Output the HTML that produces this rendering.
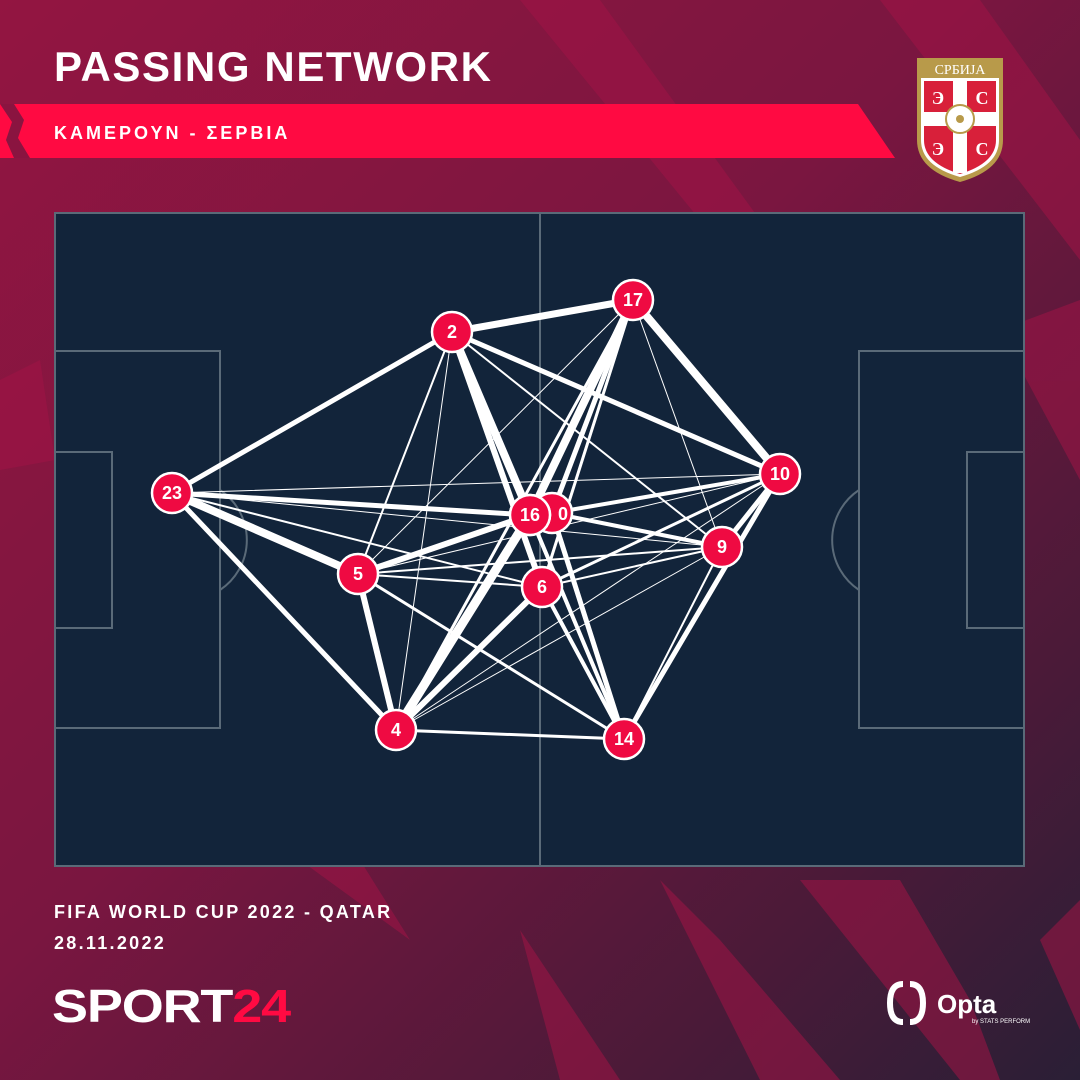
<!DOCTYPE html>
<html><head><meta charset="utf-8"><style>
html,body{margin:0;padding:0;width:1080px;height:1080px;overflow:hidden}
body{font-family:"Liberation Sans",sans-serif}
</style></head><body>
<svg width="1080" height="1080" viewBox="0 0 1080 1080" xmlns="http://www.w3.org/2000/svg">
<defs>
<linearGradient id="bg" x1="0" y1="0" x2="1" y2="1">
<stop offset="0" stop-color="#931541"/><stop offset="0.45" stop-color="#7a1640"/><stop offset="0.8" stop-color="#4a1a38"/><stop offset="1" stop-color="#2a1f36"/>
</linearGradient>
</defs>
<rect width="1080" height="1080" fill="url(#bg)"/>
<g fill="#a01446" opacity="0.55">
<polygon points="520,0 600,0 760,220 700,220"/>
<polygon points="880,0 980,0 1080,140 1080,260"/>
<polygon points="1000,330 1080,300 1080,480"/>
<polygon points="0,380 40,360 55,460 0,470"/>
<polygon points="300,860 360,860 410,940"/>
<polygon points="520,930 560,1080 620,1080"/>
<polygon points="660,880 720,940 840,1080 760,1080"/>
<polygon points="800,880 900,880 970,1000 1000,1080 960,1080"/>
<polygon points="1040,940 1080,900 1080,1030"/>
</g>
<text x="54" y="81" font-size="42" font-weight="700" fill="#fff" letter-spacing="1.6">PASSING NETWORK</text>
<polygon points="0,104 858,104 895,158 0,158" fill="#ff0a42"/>
<polygon points="0,104 14,104 24,120 18,138 30,158 14,158 6,140 12,122" fill="#8a1440"/>
<text x="54" y="139" font-size="18" font-weight="700" fill="#fff" letter-spacing="3">ΚΑΜΕΡΟΥΝ  -  ΣΕΡΒΙΑ</text>
<!-- crest -->
<path d="M917,58 L1003,58 L1003,140 Q1003,170 960,182 Q917,170 917,140 Z" fill="#b89a4a"/>
<path d="M921,78 L999,78 L999,140 Q999,166 960,177 Q921,166 921,140 Z" fill="#fff"/>
<path d="M924,81 L996,81 L996,140 Q996,163 960,174 Q924,163 924,140 Z" fill="#d8203a"/>
<rect x="953" y="81" width="14" height="92" fill="#fff"/>
<rect x="924" y="112" width="72" height="14" fill="#fff"/>
<circle cx="960" cy="119" r="14" fill="#fff" stroke="#b89a4a" stroke-width="2"/>
<circle cx="960" cy="119" r="4" fill="#b89a4a"/>
<text x="960" y="74" font-family="Liberation Serif,serif" font-size="14" fill="#fff" text-anchor="middle">СРБИЈА</text>
<g font-family="Liberation Serif,serif" font-size="18" fill="#fff" text-anchor="middle" font-weight="700">
<text x="938" y="104">Э</text><text x="982" y="104">C</text><text x="938" y="155">Э</text><text x="982" y="155">C</text></g>
<!-- pitch -->
<rect x="55" y="213" width="969" height="653" fill="#12243a" stroke="#5a6a78" stroke-width="2"/>
<g fill="none" stroke="#5a6a78" stroke-width="2">
<line x1="540" y1="213" x2="540" y2="866"/>
<rect x="55" y="351" width="165" height="377"/>
<rect x="55" y="452" width="57" height="176"/>
<rect x="859" y="351" width="165" height="377"/>
<rect x="967" y="452" width="57" height="176"/>
<path d="M220,490 A60,60 0 0 1 220,590"/>
<path d="M859,490 A60,60 0 0 0 859,590"/>
</g>
<g stroke="#fff" stroke-linecap="round">
<line x1="452" y1="332" x2="633" y2="300" stroke-width="7"/>
<line x1="452" y1="332" x2="172" y2="493" stroke-width="5"/>
<line x1="452" y1="332" x2="530" y2="515" stroke-width="8"/>
<line x1="452" y1="332" x2="542" y2="587" stroke-width="6"/>
<line x1="452" y1="332" x2="780" y2="474" stroke-width="5"/>
<line x1="452" y1="332" x2="722" y2="547" stroke-width="2"/>
<line x1="452" y1="332" x2="358" y2="574" stroke-width="2"/>
<line x1="452" y1="332" x2="396" y2="730" stroke-width="1"/>
<line x1="452" y1="332" x2="624" y2="739" stroke-width="3"/>
<line x1="633" y1="300" x2="530" y2="515" stroke-width="8"/>
<line x1="633" y1="300" x2="552" y2="513" stroke-width="5"/>
<line x1="633" y1="300" x2="542" y2="587" stroke-width="3"/>
<line x1="633" y1="300" x2="780" y2="474" stroke-width="8"/>
<line x1="633" y1="300" x2="722" y2="547" stroke-width="1"/>
<line x1="633" y1="300" x2="358" y2="574" stroke-width="1"/>
<line x1="633" y1="300" x2="396" y2="730" stroke-width="3"/>
<line x1="172" y1="493" x2="530" y2="515" stroke-width="5"/>
<line x1="172" y1="493" x2="358" y2="574" stroke-width="8"/>
<line x1="172" y1="493" x2="396" y2="730" stroke-width="5"/>
<line x1="172" y1="493" x2="780" y2="474" stroke-width="1"/>
<line x1="172" y1="493" x2="542" y2="587" stroke-width="2"/>
<line x1="172" y1="493" x2="722" y2="547" stroke-width="1"/>
<line x1="530" y1="515" x2="358" y2="574" stroke-width="6"/>
<line x1="530" y1="515" x2="396" y2="730" stroke-width="9"/>
<line x1="530" y1="515" x2="624" y2="739" stroke-width="4"/>
<line x1="552" y1="513" x2="780" y2="474" stroke-width="4"/>
<line x1="552" y1="513" x2="722" y2="547" stroke-width="4"/>
<line x1="552" y1="513" x2="624" y2="739" stroke-width="5"/>
<line x1="542" y1="587" x2="396" y2="730" stroke-width="6"/>
<line x1="542" y1="587" x2="624" y2="739" stroke-width="4"/>
<line x1="542" y1="587" x2="780" y2="474" stroke-width="3"/>
<line x1="542" y1="587" x2="722" y2="547" stroke-width="2"/>
<line x1="542" y1="587" x2="358" y2="574" stroke-width="2"/>
<line x1="358" y1="574" x2="396" y2="730" stroke-width="6"/>
<line x1="358" y1="574" x2="624" y2="739" stroke-width="3"/>
<line x1="358" y1="574" x2="722" y2="547" stroke-width="2"/>
<line x1="358" y1="574" x2="780" y2="474" stroke-width="1"/>
<line x1="396" y1="730" x2="624" y2="739" stroke-width="3"/>
<line x1="396" y1="730" x2="722" y2="547" stroke-width="1"/>
<line x1="396" y1="730" x2="780" y2="474" stroke-width="1"/>
<line x1="722" y1="547" x2="780" y2="474" stroke-width="5"/>
<line x1="624" y1="739" x2="780" y2="474" stroke-width="5"/>
<line x1="624" y1="739" x2="722" y2="547" stroke-width="2"/>
</g>
<g fill="#ef0a42" stroke="#fff" stroke-width="2.5">
<circle cx="552" cy="513" r="20"/>
<circle cx="452" cy="332" r="20"/><circle cx="633" cy="300" r="20"/><circle cx="172" cy="493" r="20"/>
<circle cx="530" cy="515" r="20"/><circle cx="358" cy="574" r="20"/><circle cx="542" cy="587" r="20"/>
<circle cx="780" cy="474" r="20"/><circle cx="722" cy="547" r="20"/><circle cx="396" cy="730" r="20"/><circle cx="624" cy="739" r="20"/>
</g>
<text x="563" y="520" fill="#fff" font-size="18" font-weight="700" text-anchor="middle">0</text>
<circle cx="530" cy="515" r="20" fill="#ef0a42" stroke="#fff" stroke-width="2.5"/>
<g fill="#fff" font-size="18" font-weight="700" text-anchor="middle">
<text x="452" y="338">2</text><text x="633" y="306">17</text><text x="172" y="499">23</text>
<text x="530" y="521">16</text><text x="358" y="580">5</text><text x="542" y="593">6</text>
<text x="780" y="480">10</text><text x="722" y="553">9</text><text x="396" y="736">4</text><text x="624" y="745">14</text>
</g>
<text x="54" y="918" font-size="18" font-weight="700" fill="#fff" letter-spacing="2.3">FIFA WORLD CUP 2022 - QATAR</text>
<text x="54" y="949" font-size="18" font-weight="700" fill="#fff" letter-spacing="2.3">28.11.2022</text>
<text x="52" y="1022" font-size="46" font-weight="900" fill="#fff" letter-spacing="-1" textLength="238" lengthAdjust="spacingAndGlyphs">SPORT<tspan fill="#ff0a42">24</tspan></text>
<path d="M903,984 Q890,984 890,1003 Q890,1022 903,1022 M910,984 Q923,984 923,1003 Q923,1022 910,1022" fill="none" stroke="#fff" stroke-width="6"/>
<text x="937" y="1013" font-size="26" font-weight="700" fill="#fff">Opta</text>
<text x="972" y="1023" font-size="6" fill="#fff">by STATS PERFORM</text>
</svg>
</body></html>
